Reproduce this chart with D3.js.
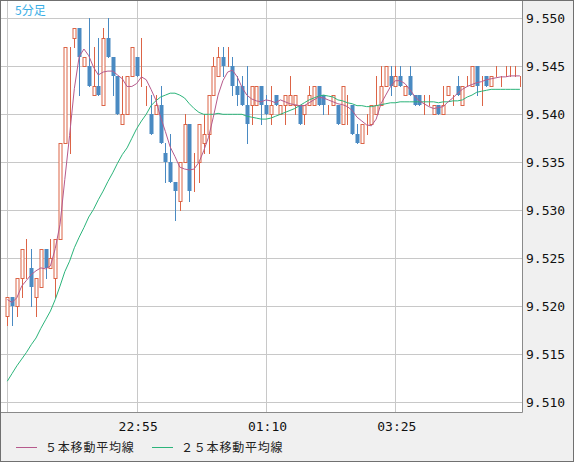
<!DOCTYPE html>
<html>
<head>
<meta charset="utf-8">
<script src="https://cdn.jsdelivr.net/npm/d3@7"></script>
<style>
  html, body { margin: 0; padding: 0; background: #f0f0f0; }
  svg { display: block; }
</style>
</head>
<body>
<svg id="chart" width="574" height="462"></svg>
<script>
// 5-minute candles (price 9.5xx)
const opens  = [9.519,9.521,9.520,9.523,9.524,9.524,9.521,9.522,9.526,9.524,9.523,9.527,9.537,9.547,9.548,9.549,9.545,9.545,9.542,9.543,
                9.541,9.548,9.546,9.544,9.539,9.540,9.544,9.546,9.544,9.542,9.540,9.540,9.541,9.536,9.535,9.533,9.531,9.535,9.539,9.533,
                9.535,9.537,9.538,9.542,9.544,9.546,9.546,9.545,9.543,9.543,9.541,9.541,9.541,9.543,9.541,9.540,9.542,9.540,9.541,9.541,
                9.541,9.541,9.540,9.541,9.541,9.543,9.542,9.541,9.541,9.541,9.539,9.542,9.541,9.538,9.537,9.539,9.539,9.540,9.541,9.543,
                9.544,9.543,9.544,9.542,9.544,9.542,9.542,9.541,9.541,9.540,9.541,9.540,9.542,9.542,9.543,9.541,9.543,9.543,9.545,9.543,
                9.544,9.543,9.544,9.544,9.544,9.544,9.544,9.544];
const highs  = [9.521,9.521,9.523,9.526,9.527,9.526,9.523,9.526,9.526,9.527,9.527,9.537,9.547,9.547,9.549,9.549,9.546,9.550,9.547,9.548,
                9.549,9.550,9.546,9.544,9.544,9.544,9.547,9.546,9.548,9.543,9.542,9.542,9.543,9.537,9.538,9.533,9.535,9.540,9.539,9.536,
                9.539,9.540,9.542,9.546,9.547,9.547,9.547,9.546,9.544,9.544,9.545,9.543,9.543,9.543,9.542,9.543,9.542,9.541,9.542,9.544,
                9.542,9.541,9.541,9.543,9.543,9.543,9.542,9.541,9.542,9.541,9.543,9.542,9.541,9.539,9.539,9.540,9.541,9.544,9.545,9.545,
                9.545,9.545,9.545,9.543,9.545,9.542,9.542,9.542,9.542,9.541,9.541,9.543,9.543,9.542,9.544,9.543,9.544,9.545,9.545,9.544,
                9.544,9.544,9.545,9.544,9.545,9.545,9.545,9.544];
const lows   = [9.518,9.518,9.519,9.521,9.523,9.520,9.519,9.522,9.523,9.524,9.521,9.527,9.537,9.536,9.547,9.542,9.545,9.543,9.542,9.542,
                9.541,9.546,9.542,9.540,9.539,9.540,9.544,9.544,9.543,9.541,9.538,9.540,9.537,9.533,9.533,9.529,9.530,9.535,9.531,9.532,
                9.533,9.536,9.536,9.542,9.544,9.544,9.545,9.542,9.541,9.541,9.537,9.539,9.541,9.539,9.540,9.539,9.541,9.540,9.539,9.541,
                9.540,9.539,9.539,9.541,9.541,9.541,9.540,9.540,9.541,9.539,9.539,9.539,9.538,9.537,9.537,9.538,9.539,9.540,9.541,9.543,
                9.542,9.543,9.543,9.542,9.542,9.541,9.541,9.540,9.541,9.540,9.540,9.540,9.542,9.541,9.542,9.541,9.543,9.543,9.542,9.541,
                9.543,9.543,9.544,9.543,9.544,9.544,9.544,9.543];
const closes = [9.521,9.520,9.523,9.526,9.524,9.522,9.523,9.526,9.524,9.525,9.527,9.537,9.547,9.547,9.549,9.546,9.546,9.543,9.543,9.542,
                9.548,9.546,9.544,9.540,9.540,9.544,9.547,9.544,9.544,9.542,9.538,9.541,9.537,9.535,9.533,9.532,9.535,9.539,9.532,9.533,
                9.539,9.538,9.542,9.545,9.546,9.545,9.546,9.543,9.542,9.541,9.539,9.543,9.543,9.541,9.540,9.541,9.541,9.541,9.542,9.542,
                9.542,9.539,9.541,9.542,9.543,9.541,9.541,9.541,9.542,9.539,9.543,9.542,9.538,9.537,9.539,9.539,9.541,9.541,9.543,9.545,
                9.543,9.544,9.543,9.543,9.542,9.541,9.541,9.541,9.541,9.541,9.540,9.541,9.543,9.542,9.542,9.543,9.543,9.545,9.543,9.543,
                9.543,9.544,9.544,9.544,9.544,9.544,9.544,9.544];

// moving averages as drawn
const ma5  = [9.5207,9.5204,9.5209,9.5221,9.5227,9.5233,9.5237,9.5240,9.5239,9.5242,9.5260,9.5285,9.5332,9.5378,9.5427,9.5460,9.5468,9.5461,9.5449,9.5441,
              9.5444,9.5445,9.5445,9.5441,9.5437,9.5429,9.5429,9.5432,9.5439,9.5436,9.5426,9.5415,9.5397,9.5382,9.5366,9.5356,9.5345,9.5343,9.5342,9.5343,
              9.5350,9.5362,9.5376,9.5397,9.5420,9.5435,9.5444,9.5446,9.5439,9.5428,9.5420,9.5416,9.5414,9.5413,9.5415,9.5414,9.5412,9.5415,9.5413,9.5411,
              9.5410,9.5409,9.5409,9.5412,9.5415,9.5418,9.5417,9.5415,9.5413,9.5411,9.5410,9.5408,9.5404,9.5397,9.5393,9.5389,9.5388,9.5395,9.5411,9.5420,
              9.5429,9.5435,9.5435,9.5432,9.5426,9.5419,9.5414,9.5411,9.5408,9.5406,9.5407,9.5408,9.5413,9.5417,9.5422,9.5426,9.5429,9.5431,9.5433,9.5434,
              9.5436,9.5437,9.5438,9.5439,9.5439,9.5440,9.5440,9.5440];
const ma25 = [9.5122,9.5130,9.5138,9.5145,9.5152,9.5160,9.5167,9.5177,9.5186,9.5195,9.5207,9.5221,9.5236,9.5247,9.5261,9.5272,9.5282,9.5293,9.5301,9.5311,
              9.5320,9.5330,9.5339,9.5349,9.5358,9.5365,9.5375,9.5385,9.5393,9.5400,9.5409,9.5414,9.5418,9.5420,9.5422,9.5422,9.5420,9.5417,9.5411,9.5406,
              9.5402,9.5400,9.5400,9.5400,9.5401,9.5400,9.5400,9.5400,9.5400,9.5400,9.5398,9.5397,9.5396,9.5395,9.5395,9.5396,9.5398,9.5400,9.5402,9.5404,
              9.5406,9.5409,9.5412,9.5415,9.5417,9.5419,9.5420,9.5419,9.5418,9.5415,9.5414,9.5412,9.5411,9.5409,9.5409,9.5408,9.5408,9.5409,9.5410,9.5411,
              9.5412,9.5412,9.5413,9.5413,9.5413,9.5413,9.5413,9.5413,9.5413,9.5413,9.5412,9.5413,9.5413,9.5414,9.5414,9.5415,9.5418,9.5420,9.5423,9.5424,
              9.5425,9.5426,9.5426,9.5426,9.5426,9.5426,9.5426,9.5426];

const yTicks = [9.510, 9.515, 9.520, 9.525, 9.530, 9.535, 9.540, 9.545, 9.550];
const xTicks = [0, 27, 54, 81];
const xTickLabels = ["", "22:55", "01:10", "03:25"];
const legendNames = ["５本移動平均線", "２５本移動平均線"];
const chartTitle = "5分足";

const upColor = "#dc6446", downColor = "#4a8ac2";
const ma5Color = "#b65a8c", ma25Color = "#2bb47a";

const svg = d3.select("#chart");
const W = 574, H = 462;
const plot = {left: 1, top: 1, right: 522.5, bottom: 412.5};

const x = d3.scaleLinear().domain([0, 107]).range([7.3, 519.9]);
const y = d3.scaleLinear().domain([9.510, 9.550]).range([402.3, 18.3]);
const px = i => Math.round(x(i)) + 0.5;

// plot background
svg.append("rect")
    .attr("x", plot.left).attr("y", plot.top)
    .attr("width", plot.right - plot.left).attr("height", plot.bottom - plot.top)
    .attr("fill", "#fff");

// grid lines
svg.append("g")
    .selectAll("line.h").data(yTicks).join("line")
    .attr("x1", plot.left).attr("x2", plot.right)
    .attr("y1", d => Math.round(y(d)) + 0.5).attr("y2", d => Math.round(y(d)) + 0.5)
    .attr("stroke", "#c8c8c8");
svg.append("g")
    .selectAll("line.v").data(xTicks).join("line")
    .attr("x1", d => px(d)).attr("x2", d => px(d))
    .attr("y1", plot.top).attr("y2", plot.bottom)
    .attr("stroke", "#c8c8c8");

// candles
const candles = d3.range(opens.length).map(i => ({
    i, o: opens[i], h: highs[i], l: lows[i], c: closes[i]
}));
const cg = svg.append("g");
candles.forEach(d => {
    const up = d.c >= d.o;
    const col = up ? upColor : downColor;
    const cx = px(d.i);
    cg.append("line")
        .attr("x1", cx).attr("x2", cx)
        .attr("y1", Math.round(y(d.h))).attr("y2", Math.round(y(d.l)) + 1)
        .attr("stroke", col);
    const top = Math.round(y(Math.max(d.o, d.c)));
    const bot = Math.round(y(Math.min(d.o, d.c)));
    if (up) {
        cg.append("rect")
            .attr("x", cx - 1.5).attr("y", top + 0.5)
            .attr("width", 3).attr("height", Math.max(0, bot - top))
            .attr("fill", d.c > d.o ? "#fff" : "none")
            .attr("stroke", col);
    } else {
        cg.append("rect")
            .attr("x", cx - 2).attr("y", top)
            .attr("width", 4).attr("height", Math.max(1, bot - top))
            .attr("fill", col);
    }
});

// moving averages
const line = d3.line().x((d, i) => x(i)).y(d => y(d));
svg.append("path").datum(ma25)
    .attr("d", line).attr("fill", "none").attr("stroke", ma25Color).attr("stroke-width", 1);
svg.append("path").datum(ma5)
    .attr("d", line).attr("fill", "none").attr("stroke", ma5Color).attr("stroke-width", 1);

// plot border
svg.append("path")
    .attr("d", `M${plot.right},${plot.top}V${plot.bottom}H${plot.left}`)
    .attr("fill", "none").attr("stroke", "#8a8a8a");

// outer frame
svg.append("rect")
    .attr("x", 0.5).attr("y", 0.5).attr("width", W - 1).attr("height", H - 1)
    .attr("fill", "none").attr("stroke", "#707070");

// y axis labels (right)
const yAxis = d3.axisRight(y).tickValues(yTicks).tickFormat(d3.format(".3f"))
    .tickSize(0).tickPadding(3.5);
const yg = svg.append("g").attr("transform", `translate(${plot.right},0)`).call(yAxis);
yg.select(".domain").remove();
yg.selectAll("text")
    .attr("font-family", "DejaVu Sans Mono, monospace").attr("font-size", 13)
    .attr("fill", "#111");

// x axis labels
const xAxis = d3.axisBottom(x).tickValues(xTicks).tickFormat((d, i) => xTickLabels[i])
    .tickSize(0).tickPadding(9);
const xg = svg.append("g").attr("transform", `translate(1,${plot.bottom})`).call(xAxis);
xg.select(".domain").remove();
xg.selectAll("text")
    .attr("font-family", "DejaVu Sans Mono, monospace").attr("font-size", 13)
    .attr("fill", "#111");

// title
svg.append("text")
    .attr("x", 15).attr("y", 15)
    .attr("font-family", "Noto Sans CJK JP, sans-serif").attr("font-size", 12)
    .attr("fill", "#39aee6")
    .text(chartTitle);

// legend
const legend = [
    {name: legendNames[0], color: ma5Color, lx: 16, tx: 45},
    {name: legendNames[1], color: ma25Color, lx: 152, tx: 181}
];
const lg = svg.append("g");
legend.forEach(d => {
    lg.append("line")
        .attr("x1", d.lx).attr("x2", d.lx + 21)
        .attr("y1", 447.5).attr("y2", 447.5)
        .attr("stroke", d.color);
    lg.append("text")
        .attr("x", d.tx).attr("y", 452)
        .attr("font-family", "Noto Sans CJK JP, sans-serif").attr("font-size", 12)
        .attr("letter-spacing", 0.8)
        .attr("fill", "#222")
        .text(d.name);
});
</script>
</body>
</html>
